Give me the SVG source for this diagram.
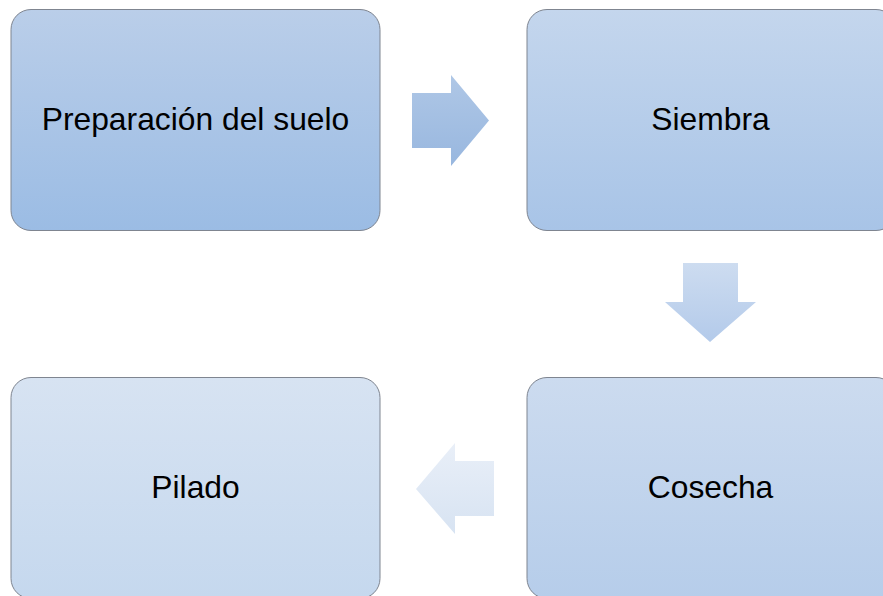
<svg xmlns="http://www.w3.org/2000/svg" width="883" height="596" viewBox="0 0 883 596">
<style>
.box{stroke:#7f8590;stroke-width:1}
.lbl{font-family:"Liberation Sans",Arial,sans-serif;font-size:31.8px;fill:#000;text-anchor:middle}
</style>
<defs>
<linearGradient id="g1" x1="0" y1="0" x2="0" y2="1"><stop offset="0" stop-color="#bacee9"/><stop offset="1" stop-color="#9bbce4"/></linearGradient>
<linearGradient id="g2" x1="0" y1="0" x2="0" y2="1"><stop offset="0" stop-color="#c4d6ed"/><stop offset="1" stop-color="#a8c4e7"/></linearGradient>
<linearGradient id="g3" x1="0" y1="0" x2="0" y2="1"><stop offset="0" stop-color="#ccdbef"/><stop offset="1" stop-color="#b6cdea"/></linearGradient>
<linearGradient id="g4" x1="0" y1="0" x2="0" y2="1"><stop offset="0" stop-color="#d7e3f2"/><stop offset="1" stop-color="#c5d8ee"/></linearGradient>
<linearGradient id="a1" x1="0" y1="0" x2="0" y2="1"><stop offset="0" stop-color="#afc7e6"/><stop offset="1" stop-color="#98b7df"/></linearGradient>
<linearGradient id="a2" x1="0" y1="0" x2="0" y2="1"><stop offset="0" stop-color="#cddcf0"/><stop offset="1" stop-color="#b3caea"/></linearGradient>
<linearGradient id="a3" x1="0" y1="0" x2="0" y2="1"><stop offset="0" stop-color="#e9eff8"/><stop offset="1" stop-color="#d7e3f2"/></linearGradient>
</defs>
<rect width="883" height="596" fill="#ffffff"/>
<g id="connectors">
<polygon points="412,93 451,93 451,75 489,120.5 451,166 451,148 412,148" fill="url(#a1)"/>
<polygon points="683,263 738,263 738,302 756,302 710,342 665,302 683,302" fill="url(#a2)"/>
<polygon points="494,461 455,461 455,443 416,489 455,534 455,516 494,516" fill="url(#a3)"/>
</g>
<g id="node-preparacion">
<rect class="box" x="11" y="9.5" width="369" height="221" rx="20" fill="url(#g1)"/>
<text class="lbl" x="195.5" y="130">Preparación del suelo</text>
</g>
<g id="node-siembra">
<rect class="box" x="527" y="9.5" width="369" height="221" rx="20" fill="url(#g2)"/>
<text class="lbl" x="710.5" y="130">Siembra</text>
</g>
<g id="node-cosecha">
<rect class="box" x="527" y="377.5" width="369" height="221" rx="20" fill="url(#g3)"/>
<text class="lbl" x="710.5" y="498">Cosecha</text>
</g>
<g id="node-pilado">
<rect class="box" x="11" y="377.5" width="369" height="221" rx="20" fill="url(#g4)"/>
<text class="lbl" x="195.5" y="498">Pilado</text>
</g>
</svg>
